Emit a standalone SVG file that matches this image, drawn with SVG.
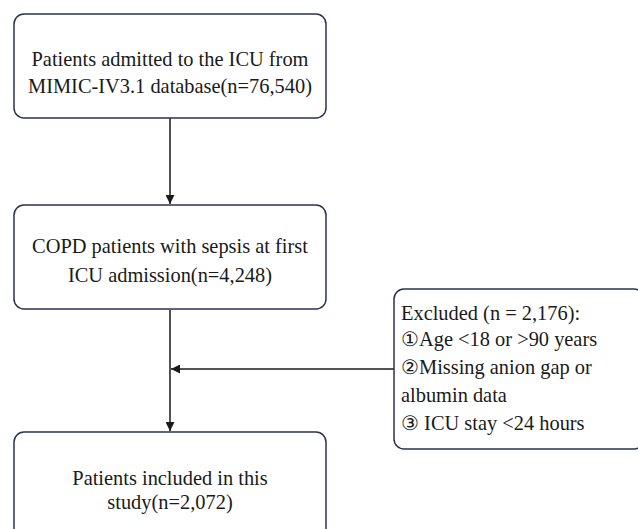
<svg xmlns="http://www.w3.org/2000/svg" width="638" height="529" viewBox="0 0 638 529">
<defs>
<marker id="ah" viewBox="0 0 10 10" refX="10" refY="5" markerWidth="9" markerHeight="9" markerUnits="userSpaceOnUse" orient="auto">
<path d="M0,0 L10,5 L0,10 z" fill="#1a1a1a"/>
</marker>
</defs>
<rect width="638" height="529" fill="#fff"/>
<g id="connectors" stroke="#1a1a1a" stroke-width="1.5" fill="none">
<line x1="170" y1="118" x2="170" y2="204" marker-end="url(#ah)"/>
<line x1="170" y1="310" x2="170" y2="431" marker-end="url(#ah)"/>
<line x1="394" y1="369" x2="171" y2="369" marker-end="url(#ah)"/>
</g>
<g id="n1">
<rect x="14" y="14" width="312" height="104" rx="10" fill="#fff" stroke="#2b3150" stroke-width="1.5"/>
<text x="170" y="66" text-anchor="middle" font-family="Liberation Serif" font-size="20.4" fill="#1a1a1a">Patients admitted to the ICU from</text>
<text x="170" y="93" text-anchor="middle" font-family="Liberation Serif" font-size="20.4" fill="#1a1a1a">MIMIC-IV3.1 database(n=76,540)</text>
</g>
<g id="n2">
<rect x="14" y="205" width="312" height="104" rx="10" fill="#fff" stroke="#2b3150" stroke-width="1.5"/>
<text x="170" y="253" text-anchor="middle" font-family="Liberation Serif" font-size="20.4" fill="#1a1a1a">COPD patients with sepsis at first</text>
<text x="170" y="282" text-anchor="middle" font-family="Liberation Serif" font-size="20.4" fill="#1a1a1a">ICU admission(n=4,248)</text>
</g>
<g id="n3">
<rect x="394" y="289" width="250" height="160" rx="10" fill="#fff" stroke="#2b3150" stroke-width="1.5"/>
<text x="401" y="320" font-family="Liberation Serif" font-size="20.4" fill="#1a1a1a">Excluded (n = 2,176):</text>
<text x="401" y="346" font-family="Liberation Serif" font-size="20.4" fill="#1a1a1a">①Age &lt;18 or &gt;90 years</text>
<text x="401" y="374" font-family="Liberation Serif" font-size="20.4" fill="#1a1a1a">②Missing anion gap or</text>
<text x="401" y="402" font-family="Liberation Serif" font-size="20.4" fill="#1a1a1a">albumin data</text>
<text x="401" y="430" font-family="Liberation Serif" font-size="20.4" fill="#1a1a1a">③ ICU stay &lt;24 hours</text>
</g>
<g id="n4">
<rect x="14" y="432" width="312" height="110" rx="10" fill="#fff" stroke="#2b3150" stroke-width="1.5"/>
<text x="170" y="485" text-anchor="middle" font-family="Liberation Serif" font-size="20.4" fill="#1a1a1a">Patients included in this</text>
<text x="170" y="509" text-anchor="middle" font-family="Liberation Serif" font-size="20.4" fill="#1a1a1a">study(n=2,072)</text>
</g>
</svg>
